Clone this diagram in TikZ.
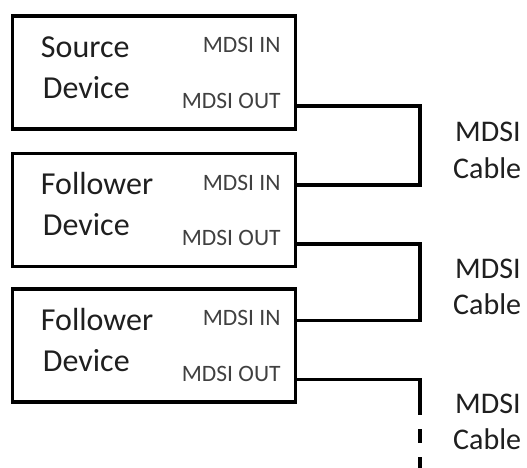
\documentclass[tikz,border=0pt]{standalone}
\usepackage{fontspec}
\setmainfont{Carlito}

\begin{document}
\begin{tikzpicture}[x=1pt, y=-1pt,
    device/.style={draw, line width=3.5pt, minimum width=283pt, minimum height=113pt, inner sep=0pt},
    devname/.style={anchor=base west, inner sep=0pt, text=black!88, font=\fontsize{32}{38}\selectfont},
    port/.style={anchor=base east, inner sep=0pt, text=black!75, font=\fontsize{23.5}{28}\selectfont},
    cablelabel/.style={anchor=base west, inner sep=0pt, text=black!88, font=\fontsize{30}{36}\selectfont},
    wire/.style={line width=3.5pt}]
  % Page size
  \useasboundingbox (0,0) rectangle (527,468);
  \def\bendx{420} % x of the cable runs

  % Devices
  \foreach \name/\y/\kind in {src/72.5/Source, fol1/210/Follower, fol2/345.5/Follower} {
      \node[device] (\name) at (154,\y) {};
      \node[devname] (\name-a) at ([shift={(30,43)}]\name.north west) {\kind};
      \node[devname] (\name-b) at ([shift={(32,84)}]\name.north west) {Device};
      % Ports
      \node[port] (\name-inlbl) at ([shift={(-16.5,38.5)}]\name.north east) {MDSI IN};
      \node[port] (\name-outlbl) at ([shift={(-16.5,94)}]\name.north east) {MDSI OUT};
      \coordinate (\name-in) at ([shift={(0,33)}]\name.north east);
      \coordinate (\name-out) at ([shift={(0,92)}]\name.north east);
  }

  % Cables
  \coordinate (bend) at (\bendx,0);
  \draw[wire] (src-out) -| (fol1-in -| bend) -- (fol1-in);
  \draw[wire] (fol1-out) -| (fol2-in -| bend) -- (fol2-in);
  % Open end, continues below
  \coordinate (cut) at (\bendx,415);
  \coordinate (tail) at (\bendx,470);
  \draw[wire] (fol2-out) -| (cut);
  \draw[wire, dash pattern=on 14pt off 14pt, dash phase=14pt] (cut) -- (tail);

  % Cable labels
  \foreach \i/\y in {1/142, 2/278, 3/413} {
      \node[cablelabel] (cab\i-a) at (455,\y) {MDSI};
      \node[cablelabel] (cab\i-b) at (453,\y+36) {Cable};
  }

\end{tikzpicture}
\end{document}
